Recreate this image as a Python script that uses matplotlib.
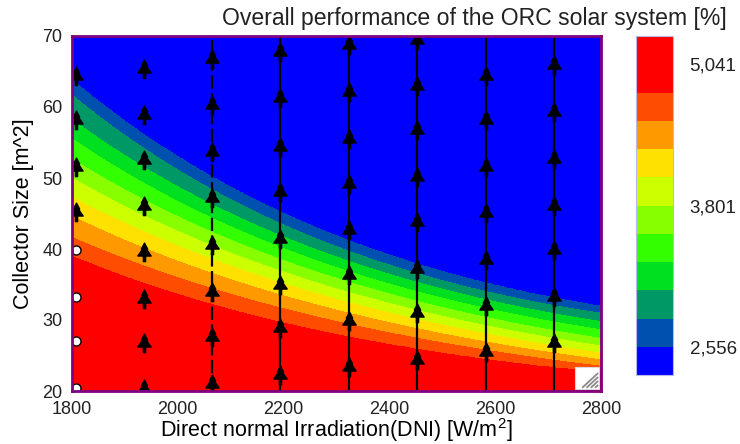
import numpy as np
import matplotlib
matplotlib.use("Agg")
import matplotlib.pyplot as plt
from matplotlib.path import Path
from matplotlib.patches import Rectangle

plt.rcParams['font.family'] = ['Liberation Sans', 'DejaVu Sans']
plt.rcParams['mathtext.fontset'] = 'custom'
plt.rcParams['mathtext.rm'] = 'Liberation Sans'
plt.rcParams['mathtext.it'] = 'Liberation Sans:italic'
plt.rcParams['text.color'] = '#222222'

# ---------------------------------------------------------------------------
# Overall ORC efficiency (%) : contour levels and band colours
levels = [2.307, 2.556, 2.805, 3.054, 3.303, 3.552, 3.801,
          4.049, 4.297, 4.545, 4.793, 5.041, 5.290]
band_colors = ['#0000FF', '#0050B0', '#009966', '#00E020', '#33FF00', '#88FF00',
               '#CCFF00', '#FFE100', '#FF9900', '#FF4D00', '#FF0000', '#FF0000']
cbar_ticks = [2.556, 3.801, 5.041]

# DNI stations (W/m2) and the collector size (m2) at which each level
# (levels[1] ... levels[10]) is crossed at that DNI
dni_cols = [1800, 1940, 2160, 2480, 2800]
size_at_level = [
    [63.7, 56.3, 45.8, 37.6, 31.8],   # 2.556
    [61.7, 54.3, 44.0, 36.5, 30.8],   # 2.805
    [58.3, 51.6, 42.2, 35.3, 29.6],   # 3.054
    [55.4, 49.6, 40.5, 33.9, 28.5],   # 3.303
    [52.5, 47.3, 38.8, 32.5, 27.3],   # 3.552
    [49.7, 45.2, 37.2, 31.1, 26.3],   # 3.801
    [46.9, 43.1, 35.5, 29.8, 25.3],   # 4.049
    [44.1, 40.9, 33.8, 28.4, 24.4],   # 4.297
    [41.0, 38.6, 31.8, 27.1, 23.5],   # 4.545
    [38.5, 36.1, 29.6, 25.8, 22.6],   # 4.793
]

# Parametric runs: DNI of each run and collector sizes of the plotted points
run_dni = [1807, 1936, 2065, 2194, 2324, 2453, 2582, 2711]
run_sizes = [
    [20.4, 27.0, 33.3, 39.9, 45.5, 51.8, 58.4, 64.7],
    [20.6, 27.0, 33.3, 39.9, 46.4, 52.8, 59.2, 65.7],
    [21.3, 27.9, 34.2, 40.8, 47.4, 53.9, 60.5, 67.1],
    [22.5, 29.1, 35.2, 41.7, 48.3, 54.6, 61.5, 68.0],
    [23.7, 30.2, 36.6, 42.9, 49.5, 55.8, 62.4, 69.0],
    [24.6, 31.2, 37.5, 44.1, 50.4, 57.0, 63.3, 69.7],
    [25.8, 32.3, 38.7, 45.3, 51.8, 58.4, 64.7],
    [27.0, 33.5, 40.1, 46.4, 53.0, 59.6, 66.2],
]
open_points = 4          # first run: lowest points drawn as open circles
size_span = [20, 70]     # collector-size range swept by every run

x_ticks = [1800, 2000, 2200, 2400, 2600, 2800]
y_ticks = [20, 30, 40, 50, 60, 70]

# ---------------------------------------------------------------------------
# Efficiency field on a fine grid, built from the tabulated level crossings
dni_grid = np.linspace(1800, 2800, 501)
size_grid = np.linspace(20, 70, 501)
cols = np.array(dni_cols, dtype=float)
# absorbed power (A*DNI) along each level line, smoothed with a quadratic in DNI
q_fits = [np.polyfit(cols, np.array(row) * cols, 2) for row in size_at_level]
inner = np.array(levels[1:11])
fp = np.concatenate(([levels[-1] - 0.01], inner[::-1], [levels[0] + 0.01]))
eff = np.empty((size_grid.size, dni_grid.size))
for j, d in enumerate(dni_grid):
    a_cross = np.array([np.polyval(c, d) for c in q_fits]) / d
    xp = np.concatenate(([0.0], a_cross[::-1], [200.0]))
    eff[:, j] = np.interp(size_grid, xp, fp)

# ---------------------------------------------------------------------------
fig = plt.figure(figsize=(7.4, 4.44), dpi=100)
ax = fig.add_axes([72 / 740, 1 - 391 / 444, 529 / 740, 355 / 444])
cax = fig.add_axes([636 / 740, 1 - 375 / 444, 37 / 740, 339 / 444])

cs = ax.contourf(dni_grid, size_grid, eff, levels=levels, colors=band_colors,
                 antialiased=False)

# tree-shaped marker used by the parametric runs
tree_verts = [(0.0, 0.40), (0.17, 0.08), (0.10, 0.08), (0.36, -0.30),
              (0.06, -0.30), (0.06, -0.60), (-0.06, -0.60), (-0.06, -0.30),
              (-0.36, -0.30), (-0.10, 0.08), (-0.17, 0.08), (0.0, 0.40)]
tree = Path(tree_verts, closed=True)

for k, (d, sizes) in enumerate(zip(run_dni, run_sizes)):
    if k >= 2:
        ls = (0, (6, 2)) if k == 2 else '-'
        ax.plot([d, d], size_span, color='black', lw=1.6, ls=ls, zorder=3)
    if k == 0:
        ax.plot([d] * open_points, sizes[:open_points], ls='none', marker='o',
                ms=6.5, mfc='white', mec='black', mew=1.0, zorder=4)
        ax.plot([d] * (len(sizes) - open_points), sizes[open_points:], ls='none',
                marker=tree, ms=16, color='black', zorder=4)
    else:
        ax.plot([d] * len(sizes), sizes, ls='none', marker=tree, ms=16,
                color='black', zorder=4)

ax.set_xlim(1800, 2800)
ax.set_ylim(20, 70)
ax.set_xticks(x_ticks)
ax.set_yticks(y_ticks)
ax.tick_params(length=0, pad=7, labelsize=13, colors='#222222')
for s in ax.spines.values():
    s.set_color('#800080')
    s.set_linewidth(2.0)
    s.set_zorder(6)

ax.set_xlabel(r'Direct normal Irradiation(DNI) [W/m$^{\mathrm{2}}$]',
              fontsize=15.5, labelpad=-1)
ax.set_ylabel('Collector Size [m^2]', fontsize=15.5, labelpad=6)

# resize handle in the lower right corner
hx0, hy0, hw, hh = 0.951, 0.006, 0.045, 0.062
ax.add_patch(Rectangle((hx0, hy0), hw, hh, transform=ax.transAxes,
                       facecolor='white', edgecolor='#d8d8d8', lw=0.8, zorder=5))
for t in [0.30, 0.48, 0.66, 0.84]:
    ax.plot([hx0 + t * hw, hx0 + hw * 0.97], [hy0 + hh * 0.05, hy0 + (1.02 - t) * hh],
            transform=ax.transAxes, color='#8a8a8a', lw=1.3, zorder=5,
            solid_capstyle='butt')

cb = fig.colorbar(cs, cax=cax, ticks=cbar_ticks)
cb.ax.set_yticklabels([f'{v:.3f}'.replace('.', ',') for v in cbar_ticks])
cb.ax.tick_params(length=0, pad=12, labelsize=13.5, colors='#222222')
cb.outline.set_edgecolor('#b8b8e8')
cb.outline.set_linewidth(0.8)

fig.text(727 / 740, 1 - 18 / 444, 'Overall performance of the ORC solar system [%]',
         ha='right', va='center', fontsize=16.6)

fig.savefig('out.png', dpi=100)
